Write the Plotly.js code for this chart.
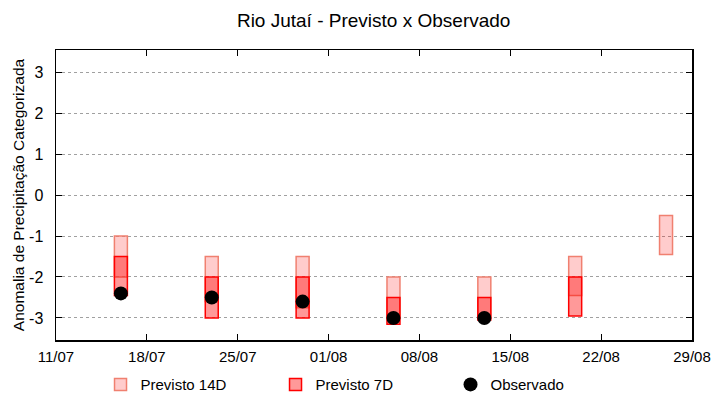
<!DOCTYPE html>
<html>
<head>
<meta charset="utf-8">
<script src="https://cdn.plot.ly/plotly-3.0.1.min.js"></script>
<style>html,body{margin:0;padding:0;background:#fff;}#chart{width:720px;height:400px;}</style>
</head>
<body>
<div id="chart"></div>
<script>
const dates = ['2023-07-16','2023-07-23','2023-07-30','2023-08-06','2023-08-13','2023-08-20','2023-08-27'];
const p14Top = [-1, -1.5, -1.5, -2, -2, -1.5, -0.5];
const p14Bot = [-2, -2.6, -2.75, -3, -3, -2.45, -1.45];
const p7Top = [-1.5, -2, -2, -2.5, -2.5, -2, null];
const p7Bot = [-2.45, -3, -3, -3.15, -3.05, -2.95, null];
const observed = [-2.4, -2.5, -2.6, -3, -3, null, null];
const yTickVals = [-3, -2, -1, 0, 1, 2, 3];
const yTickText = ['-3', '-2', '-1', '0', '1', '2', '3'];

const DAY = 86400000;
const len = (top, bot) => top.map((t, i) => (t === null ? null : bot[i] - t));

const traces = [
  {
    type: 'bar', name: 'Previsto 14D', x: dates, base: p14Top, y: len(p14Top, p14Bot),
    width: DAY, marker: {color: 'rgba(255,0,0,0.2)', line: {color: '#f08070', width: 1.5}},
    hoverinfo: 'skip'
  },
  {
    type: 'bar', name: 'Previsto 7D', x: dates, base: p7Top, y: len(p7Top, p7Bot),
    width: DAY, marker: {color: 'rgba(255,0,0,0.4)', line: {color: '#ff0000', width: 1.5}},
    hoverinfo: 'skip'
  },
  {
    type: 'scatter', mode: 'markers', name: 'Observado', x: dates, y: observed,
    marker: {color: '#000', size: 14, symbol: 'circle'}
  }
];

const layout = {
  width: 720, height: 400,
  margin: {l: 56, r: 28, t: 50, b: 60, autoexpand: false},
  paper_bgcolor: '#fff', plot_bgcolor: '#fff',
  font: {family: 'Liberation Sans, Arial, sans-serif', size: 16, color: '#000'},
  title: {text: 'Rio Jutaí - Previsto x Observado', x: 0.519, xanchor: 'center', y: 0.95, yanchor: 'middle', font: {size: 19}},
  barmode: 'overlay',
  showlegend: true,
  legend: {orientation: 'h', x: 0.07, xanchor: 'left', y: -0.097, yanchor: 'top', entrywidth: 130, entrywidthmode: 'pixels', font: {size: 15}},
  xaxis: {
    type: 'date', range: ['2023-07-11', '2023-08-29'],
    tick0: '2023-07-11', dtick: 7 * DAY, tickformat: '%d/%m',
    ticks: 'inside', ticklen: 6, tickcolor: '#000', mirror: 'ticks',
    showline: true, linecolor: '#000', linewidth: 1.5, showgrid: false, zeroline: false,
    tickfont: {size: 15}, ticklabelstandoff: 2
  },
  yaxis: {
    range: [-3.537, 3.537], tickvals: yTickVals, ticktext: yTickText,
    ticks: 'inside', ticklen: 6, tickcolor: '#000', mirror: 'ticks',
    showline: true, linecolor: '#000', linewidth: 1.5, ticklabelstandoff: 8,
    showgrid: true, gridcolor: '#a0a0a0', griddash: 'dot', gridwidth: 1, zeroline: false,
    tickfont: {size: 16},
    title: {text: 'Anomalia de Precipitação Categorizada', font: {size: 15.5}, standoff: 0}
  }
};

Plotly.newPlot('chart', traces, layout, {staticPlot: true});
</script>
</body>
</html>
